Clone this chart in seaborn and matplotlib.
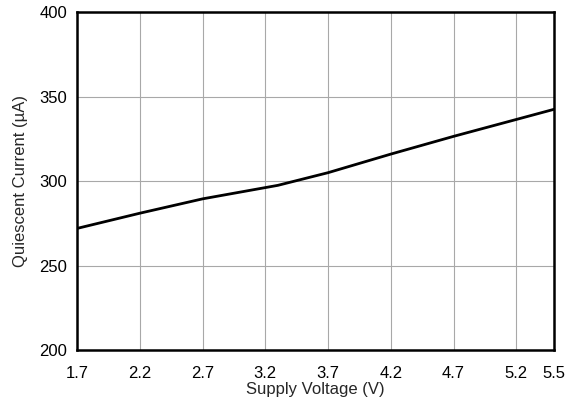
import matplotlib
matplotlib.use('Agg')
import matplotlib.pyplot as plt
import seaborn as sns
import pandas as pd

# Данные
voltage = [1.7, 2.2, 2.7, 3.3, 3.7, 4.2, 4.7, 5.5]
current = [272, 281, 289.5, 297.5, 305, 316, 326.5, 342.5]
x_ticks = [1.7, 2.2, 2.7, 3.2, 3.7, 4.2, 4.7, 5.2, 5.5]
y_ticks = [200, 250, 300, 350, 400]

df = pd.DataFrame({'v': voltage, 'i': current})

sns.set_style('white')
plt.rcParams['font.family'] = ['Liberation Sans', 'DejaVu Sans']

fig = plt.figure(figsize=(5.67, 4.07), dpi=100)
ax = fig.add_axes([0.136, 0.140, 0.841, 0.830])

sns.lineplot(x='v', y='i', data=df, color='black', linewidth=2, ax=ax)

ax.set_xlim(1.7, 5.5)
ax.set_ylim(200, 400)
ax.set_xticks(x_ticks)
ax.set_xticklabels([str(t) for t in x_ticks])
ax.set_yticks(y_ticks)
ax.grid(True, color='#a8a8a8', linewidth=0.8)
ax.tick_params(axis='x', length=0, labelsize=12, pad=11.5, colors='black')
ax.tick_params(axis='y', length=0, labelsize=12, pad=7, colors='black')
for s in ax.spines.values():
    s.set_color('black')
    s.set_linewidth(1.8)

ax.set_xlabel('Supply Voltage (V)', fontsize=12, labelpad=1)
ax.set_ylabel('Quiescent Current (µA)', fontsize=12, labelpad=8)

plt.savefig('out.png', dpi=100)
